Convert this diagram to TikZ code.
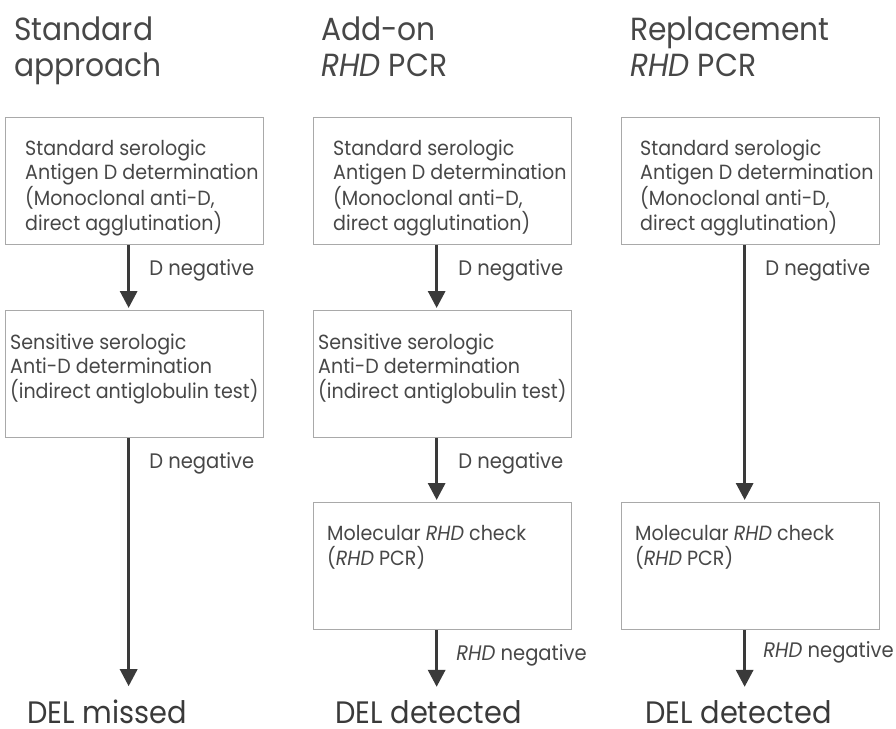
\documentclass[tikz,border=0pt]{standalone}
\usepackage{fontspec}
\setmainfont{Poppins}[FakeStretch=0.93]
\usetikzlibrary{arrows.meta,positioning}
\definecolor{INK}{HTML}{3A3A3A}
\definecolor{FRAME}{HTML}{A9A9A9}
\definecolor{TXT}{HTML}{474747}

\begin{document}
\begin{tikzpicture}[
  x=1pt, y=-1pt,
  box/.style={draw=FRAME, line width=1.3pt, minimum width=258pt, minimum height=127pt, inner sep=0pt, anchor=north west},
  boxtext/.style={anchor=base west, inner sep=0pt, align=left, text=TXT, font=\fontsize{20.5}{24.5}\selectfont},
  head/.style={anchor=base west, inner sep=0pt, align=left, text=TXT, font=\fontsize{32}{36}\selectfont},
  result/.style={anchor=base west, inner sep=0pt, text depth=0pt, text=INK, font=\fontsize{31}{36}\selectfont},
  lbl/.style={anchor=north west, inner sep=0pt, text=TXT, font=\fontsize{21}{24}\selectfont},
  arr/.style={-{Triangle[width=17pt, length=17pt]}, draw=INK, line width=3.2pt},
]
\useasboundingbox (0,0) rectangle (896,728);

% column headings
\node[head] (h1) at (14,76) {Standard\\approach};
\node[head] (h2) at (321,76) {Add-on\\\textit{RHD} PCR};
\node[head] (h3) at (630,76) {Replacement\\\textit{RHD} PCR};

% Standard approach
\node[box] (a1) at (5,117) {};
\node[box] (a2) at (5,310) {};
\node[boxtext] (a1t) at ([shift={(20,113)}]a1.north west) {Standard serologic\\Antigen D determination\\(Monoclonal anti-D,\\direct agglutination)};
\node[boxtext] (a2t) at ([shift={(5,88)}]a2.north west) {Sensitive serologic\\Anti-D determination\\(indirect antiglobulin test)};
\node[result] (r1) at (27,723) {DEL missed};

% Add-on RHD PCR
\node[box] (b1) at (313,117) {};
\node[box] (b2) at (313,310) {};
\node[box] (b3) at (313,502) {};
\node[boxtext] (b1t) at ([shift={(20,113)}]b1.north west) {Standard serologic\\Antigen D determination\\(Monoclonal anti-D,\\direct agglutination)};
\node[boxtext] (b2t) at ([shift={(5,88)}]b2.north west) {Sensitive serologic\\Anti-D determination\\(indirect antiglobulin test)};
\node[boxtext] (b3t) at ([shift={(14,63)}]b3.north west) {Molecular \textit{RHD} check\\(\textit{RHD} PCR)};
\node[result] (r2) at (335,723) {DEL detected};

% Replacement RHD PCR
\node[box] (c1) at (621,117) {};
\node[box] (c3) at (621,502) {};
\node[boxtext] (c1t) at ([shift={(19,113)}]c1.north west) {Standard serologic\\Antigen D determination\\(Monoclonal anti-D,\\direct agglutination)};
\node[boxtext] (c3t) at ([shift={(14,63)}]c3.north west) {Molecular \textit{RHD} check\\(\textit{RHD} PCR)};
\node[result] (r3) at (645,723) {DEL detected};

% connectors
\draw[arr, shorten >=2pt] ([xshift=-6]a1.south) -- node[lbl, pos=0, xshift=19, yshift=-13] {D negative} ([xshift=-6]a2.north);
\draw[arr, shorten >=13pt] ([xshift=-6]a2.south) -- node[lbl, pos=0, xshift=19, yshift=-13] {D negative} ([xshift=-6]a2.south |- r1.north);

\draw[arr, shorten >=2pt] ([xshift=-6]b1.south) -- node[lbl, pos=0, xshift=20, yshift=-13] {D negative} ([xshift=-6]b2.north);
\draw[arr, shorten >=2pt] ([xshift=-6]b2.south) -- node[lbl, pos=0, xshift=20, yshift=-13] {D negative} ([xshift=-6]b3.north);
\draw[arr, shorten >=13pt] ([xshift=-6]b3.south) -- node[lbl, pos=0, xshift=18, yshift=-13] {\textit{RHD} negative} ([xshift=-6]b3.south |- r2.north);

\draw[arr, shorten >=2pt] ([xshift=-6]c1.south) -- node[lbl, pos=0, xshift=19, yshift=-13] {D negative} ([xshift=-6]c3.north);
\draw[arr, shorten >=13pt] ([xshift=-6]c3.south) -- node[lbl, pos=0, xshift=17, yshift=-10] {\textit{RHD} negative} ([xshift=-6]c3.south |- r3.north);
\end{tikzpicture}
\end{document}
